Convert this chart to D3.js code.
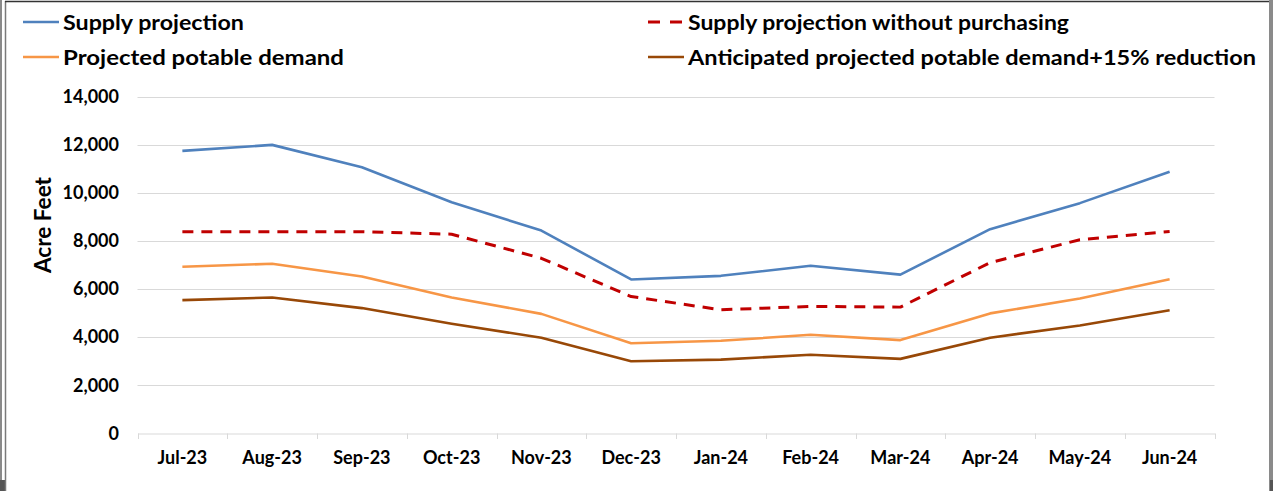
<!DOCTYPE html>
<html>
<head>
<meta charset="utf-8">
<script src="https://cdn.jsdelivr.net/npm/d3@7"></script>
<style>
  body { margin: 0; background: #fff; }
  svg text { font-family: "Lato", "Open Sans", sans-serif; font-weight: bold; fill: #000; }
</style>
</head>
<body>
<div id="chart"></div>
<script>
// ==================== données ====================//
const months = ["Jul-23", "Aug-23", "Sep-23", "Oct-23", "Nov-23", "Dec-23",
                "Jan-24", "Feb-24", "Mar-24", "Apr-24", "May-24", "Jun-24"];

const supplyProjection = [11740, 11990, 11060, 9610, 8430, 6400, 6550, 6970, 6600, 8490, 9570, 10870];
const supplyNoPurchase = [8380, 8380, 8380, 8280, 7280, 5690, 5140, 5280, 5250, 7100, 8050, 8390];
const potableDemand    = [6930, 7050, 6520, 5650, 4970, 3750, 3850, 4100, 3880, 4990, 5610, 6410];
const demandReduction  = [5540, 5650, 5210, 4560, 3980, 3000, 3070, 3270, 3100, 3980, 4490, 5120];

const yTicks = [0, 2000, 4000, 6000, 8000, 10000, 12000, 14000];

const series = [
    { name: "Supply projection", values: supplyProjection, color: "#4f81bd", dash: null },
    { name: "Supply projection without purchasing", values: supplyNoPurchase, color: "#c00000", dash: "11,8" },
    { name: "Projected potable demand", values: potableDemand, color: "#f79646", dash: null },
    { name: "Anticipated projected potable demand+15% reduction", values: demandReduction, color: "#984807", dash: null }
];

// ==================== svg ====================//
const width = 1273;
const height = 491;

const svg = d3.select("#chart")
    .append("svg")
    .attr("width", width)
    .attr("height", height);

// cadre (bordures grises comme la capture)
svg.append("rect").attr("x", 0).attr("y", 0).attr("width", 2).attr("height", height).attr("fill", "#8a8a8a");
svg.append("rect").attr("x", 1269).attr("y", 0).attr("width", 4).attr("height", height).attr("fill", "#8a8a8a");
svg.append("rect").attr("x", 0).attr("y", 480).attr("width", 6).attr("height", 11).attr("fill", "#555");
svg.append("rect").attr("x", 1270).attr("y", 480).attr("width", 3).attr("height", 11).attr("fill", "#555");
svg.append("line").attr("x1", 5.5).attr("x2", 5.5).attr("y1", 1).attr("y2", height).attr("stroke", "#7a7a7a").attr("stroke-width", 1.5);
svg.append("line").attr("x1", 5).attr("x2", 1269).attr("y1", 1.5).attr("y2", 1.5).attr("stroke", "#333").attr("stroke-width", 1.5);

// ==================== échelles ====================//
const x = d3.scaleBand()
    .domain(months)
    .range([137.5, 1214.5]);

const y = d3.scaleLinear()
    .domain([0, 14000])
    .range([433.5, 96.5]);

// grille
svg.append("g")
    .selectAll("line")
    .data(yTicks.filter(d => d > 0))
    .enter()
    .append("line")
    .attr("x1", 137.5)
    .attr("x2", 1214.5)
    .attr("y1", d => Math.round(y(d)) + 0.5)
    .attr("y2", d => Math.round(y(d)) + 0.5)
    .attr("stroke", "#d9d9d9")
    .attr("stroke-width", 1);

// axe Y (texte seulement)
const yAxis = svg.append("g")
    .attr("transform", "translate(137,0)")
    .call(d3.axisLeft(y).tickValues(yTicks).tickFormat(d3.format(",")).tickSize(0).tickPadding(18));
yAxis.select(".domain").remove();
yAxis.selectAll("text").style("font-size", "18px");

// axe X
const xAxis = svg.append("g")
    .attr("transform", "translate(0,433.5)")
    .call(d3.axisBottom(x).tickSize(0).tickPadding(18));
xAxis.select(".domain").attr("stroke", "#d9d9d9");
xAxis.selectAll("text").style("font-size", "18px");

// petites graduations aux limites des catégories
svg.append("g")
    .selectAll("line")
    .data(months.concat(["end"]))
    .enter()
    .append("line")
    .attr("x1", (d, i) => Math.round(x.range()[0] + i * x.step()) + 0.5)
    .attr("x2", (d, i) => Math.round(x.range()[0] + i * x.step()) + 0.5)
    .attr("y1", 433.5)
    .attr("y2", 439)
    .attr("stroke", "#d9d9d9");

// titre axe Y
svg.append("text")
    .attr("transform", "translate(51,225) rotate(-90)")
    .attr("text-anchor", "middle")
    .style("font-size", "22px")
    .attr("textLength", 96)
    .attr("lengthAdjust", "spacingAndGlyphs")
    .text("Acre Feet");

// ==================== lignes ====================//
const line = d3.line()
    .x((d, i) => x(months[i]) + x.bandwidth() / 2)
    .y(d => y(d));

svg.append("g")
    .selectAll("path")
    .data(series)
    .enter()
    .append("path")
    .attr("d", d => line(d.values))
    .attr("fill", "none")
    .attr("stroke", d => d.color)
    .attr("stroke-width", d => d.dash ? 3 : 2.6)
    .attr("stroke-dasharray", d => d.dash)
    .attr("stroke-linejoin", "round");

// ==================== légende ====================//
const legendPos = [
    { x: 23, y: 22 },
    { x: 648, y: 22 },
    { x: 23, y: 57 },
    { x: 648, y: 57 }
];
const legendWidths = [181, 381, 281, 568];

const legend = svg.append("g")
    .selectAll("g")
    .data(series)
    .enter()
    .append("g")
    .attr("transform", (d, i) => `translate(${legendPos[i].x},${legendPos[i].y})`);

legend.append("line")
    .attr("x1", 0)
    .attr("x2", 36)
    .attr("stroke", d => d.color)
    .attr("stroke-width", d => d.dash ? 3 : 2.6)
    .attr("stroke-dasharray", d => d.dash ? "12,10" : null);

legend.append("text")
    .attr("x", 40)
    .attr("dy", "0.37em")
    .style("font-size", "21px")
    .text(d => d.name)
    .each(function (d, i) {
        // ajuster la largeur au rendu original
        d3.select(this).attr("textLength", legendWidths[i]).attr("lengthAdjust", "spacingAndGlyphs");
    });
</script>
</body>
</html>
